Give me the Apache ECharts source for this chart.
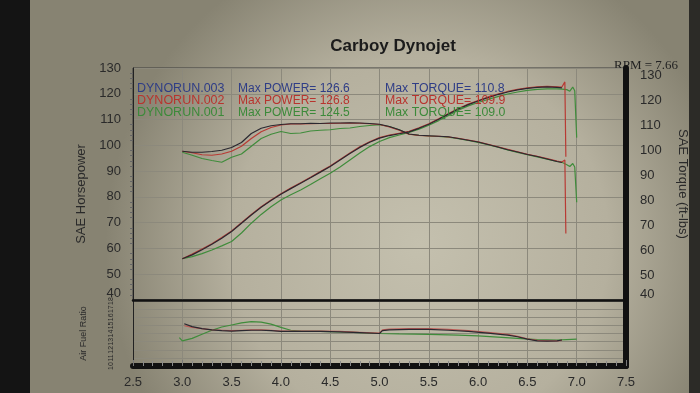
<!DOCTYPE html>
<html><head><meta charset="utf-8">
<script src="https://cdn.jsdelivr.net/npm/echarts@6/dist/echarts.min.js"></script>
<style>html,body{margin:0;padding:0;background:#111}#c{width:700px;height:393px}</style>
</head><body><div id="c"></div>
<script>
// ---- data ----
const rpm = [3.0,3.1,3.2,3.3,3.4,3.5,3.6,3.7,3.8,3.9,4.0,4.1,4.2,4.3,4.4,4.5,4.6,4.7,4.8,4.9,5.0,5.1,5.2,5.3,5.4,5.5,5.6,5.7,5.8,5.9,6.0,6.1,6.2,6.3,6.4,6.5,6.6,6.7,6.8];
const power003 = [56,57.5,59.5,61.6,64,66.6,69.8,73,76,78.6,81,83.2,85.3,87.4,89.6,91.8,94.3,96.8,99.2,101.2,102.8,103.8,104.5,105.2,106.6,108.2,110.1,112.1,114.1,115.8,117.2,118.5,119.7,120.7,121.5,122.1,122.5,122.7,122.5];
const power002 = [56,57.8,59.8,61.8,64.2,66.8,70,73.2,76.2,78.8,81.2,83.4,85.5,87.6,89.8,92,94.5,97,99.4,101.4,103,104,104.7,105.4,106.8,108.4,110.3,112.3,114.3,116,117.4,118.7,119.9,120.9,121.7,122.3,122.7,122.9,122.7];
const power001 = [56,56.8,58,59.4,61,62.7,66,69.8,73.2,76.2,78.8,80.8,82.7,84.8,87,89.2,91.6,94.3,97,99.5,101.5,103,104,105,106.3,107.8,109.6,111.6,113.6,115.3,116.6,117.8,118.9,119.9,120.7,121.3,121.7,121.9,121.9];
const torque003 = [99.5,99.1,99.1,99.4,99.9,101.0,103.0,106.6,108.7,109.7,110.2,110.5,110.5,110.7,110.6,110.8,110.8,110.9,110.8,110.6,110.3,109.4,108.1,106.4,105.9,105.7,105.5,105.3,104.6,103.9,103.2,102.2,101.2,100.1,99.2,98.2,97.4,96.4,95.4];
const torque002 = [99.5,98.9,98.1,97.9,98.4,99.5,101.5,104.6,107.3,109.0,110.0,110.4,110.4,110.5,110.6,110.6,110.7,110.8,110.7,110.5,110.2,109.2,107.9,106.3,105.8,105.6,105.5,105.2,104.7,104.0,103.3,102.3,101.3,100.3,99.3,98.3,97.5,96.6,95.6];
const torque001 = [99.1,97.9,96.6,95.8,95.1,97.1,98.4,101.5,104.6,106.3,107.4,106.6,106.8,107.6,107.9,108.1,108.6,108.8,109.4,109.8,110.1,109.4,108.1,106.3,105.9,105.6,105.4,105.1,104.5,103.8,103.0,102.1,101.1,100.0,99.0,98.1,97.2,96.3,95.4];
// end-of-run segments
const tailRpm003 = [6.85];
const powerTail003 = [122.3];
const torqueTail003 = [95.0];
const tailRpm002 = [6.85,6.88,6.89];
const powerTail002 = [122.6,124.6,95.6];
const torqueTail002 = [95.2,96.0,66.6];
const tailRpm001 = [6.85,6.9,6.93,6.96,6.98,7.0];
const powerTail001 = [121.8,121.6,121.0,122.6,121.2,103.0];
const torqueTail001 = [95.1,94.1,93.4,94.6,93.2,79.1];
// air fuel ratio
const afrRpm003 = [3.02,3.1,3.2,3.3,3.4,3.5,3.6,3.7,3.8,3.9,4.0,4.2,4.4,4.6,4.8,5.0,5.03,5.1,5.3,5.5,5.7,5.9,6.1,6.3,6.4,6.5,6.6,6.7,6.8,6.85];
const afr003 = [15.2,14.85,14.6,14.45,14.35,14.3,14.35,14.4,14.4,14.35,14.25,14.25,14.25,14.2,14.1,14.0,14.35,14.45,14.5,14.5,14.4,14.25,14.05,13.8,13.6,13.3,13.1,13.05,13.1,13.2];
const afr002 = [14.95,14.75,14.6,14.45,14.4,14.35,14.4,14.45,14.45,14.4,14.3,14.3,14.3,14.25,14.15,14.05,14.45,14.55,14.6,14.6,14.5,14.35,14.15,13.9,13.65,13.35,13.15,13.1,13.1,13.15];
const afrRpm001 = [2.97,3.0,3.1,3.2,3.3,3.4,3.5,3.6,3.7,3.8,3.9,4.0,4.1,4.2,4.4,4.6,4.8,5.0,5.2,5.5,5.8,6.0,6.2,6.4,6.6,6.8,6.9,7.0];
const afr001 = [13.5,13.1,13.4,13.9,14.4,14.8,15.05,15.3,15.45,15.4,15.15,14.75,14.4,14.3,14.25,14.2,14.1,14.0,13.95,13.9,13.8,13.7,13.55,13.4,13.25,13.2,13.25,13.3];
// texts
const runNames = ['DYNORUN.003','DYNORUN.002','DYNORUN.001'];
const maxPower = ['126.6','126.8','124.5'];
const maxTorque = ['110.8','109.9','109.0'];
const torqueTicks = [40,50,60,70,80,90,100,110,120,130];
const rpmReadout = 'RPM = 7.66';

// ---- build ----
const zip = (xs, ys) => xs.map((x, i) => [x, ys[i]]);
const withTail = (xs, ys, tx, ty) => zip(xs, ys).concat(zip(tx, ty));
const colBlack = '#2a2830', colRed = '#b83a34', colGreen = '#3f8c3b';
const txtCols = ['#2f3d86', '#b8342e', '#3c8a3a'];
const gridCol = '#8c897c';
const font = 'Liberation Sans, Arial, sans-serif';

function line(name, data, color, xi, yi, w) {
  return {name, type:'line', data, xAxisIndex:xi, yAxisIndex:yi, showSymbol:false, symbol:'none',
          lineStyle:{color, width:w || 1.2}, itemStyle:{color}, silent:true};
}

const graphics = [
  {type:'rect', shape:{x:0,y:0,width:30,height:393}, style:{fill:'#141414'}},
  {type:'rect', shape:{x:689,y:0,width:11,height:393}, style:{fill:'#2c2b27'}},
  {type:'text', style:{text:rpmReadout, x:614, y:66, fill:'#222', font:'13px "Liberation Serif", serif', verticalAlign:'middle'}}
];
const rowY = [89, 101, 113];
runNames.forEach((n, i) => {
  graphics.push({type:'text', z:10, style:{text:n, x:137, y:rowY[i], fill:txtCols[i], font:'12.5px ' + font, verticalAlign:'middle'}});
  graphics.push({type:'text', z:10, style:{text:'Max POWER= ' + maxPower[i], x:238, y:rowY[i], fill:txtCols[i], font:'12px ' + font, verticalAlign:'middle'}});
  graphics.push({type:'text', z:10, style:{text:'Max TORQUE= ' + maxTorque[i], x:385, y:rowY[i], fill:txtCols[i], font:'12.3px ' + font, verticalAlign:'middle'}});
});

const option = {
  animation:false,
  backgroundColor:{type:'radial', x:0.6, y:0.62, r:0.8,
    colorStops:[{offset:0,color:'#c4c0ae'},{offset:0.6,color:'#b5b09e'},{offset:1,color:'#878372'}]},
  textStyle:{fontFamily:font},
  title:{text:'Carboy Dynojet', left:388, top:33, textAlign:'center',
    textStyle:{fontSize:17, fontWeight:'bold', color:'#1b1b1b', fontFamily:font}},
  graphic:graphics,
  grid:[
    {left:133, right:74, top:68, height:232, show:true, borderColor:'#3c3c3c', borderWidth:1, backgroundColor:'transparent'},
    {left:133, right:74, top:301, height:65}
  ],
  xAxis:[
    {gridIndex:0, type:'value', min:2.5, max:7.5, interval:0.5,
     axisLabel:{show:false}, axisTick:{show:false},
     axisLine:{show:true, lineStyle:{color:'#111', width:2.5}},
     splitLine:{show:true, lineStyle:{color:gridCol, width:1}}},
    {gridIndex:1, type:'value', min:2.5, max:7.5, interval:0.5,
     axisLabel:{formatter:v => v.toFixed(1), fontSize:13, color:'#2a2a2a', margin:10},
     axisTick:{show:true, inside:true, length:6, lineStyle:{color:'#777'}},
     minorTick:{show:true, splitNumber:5, length:5, lineStyle:{color:'#8a8a8a'}},
     axisLine:{show:true, lineStyle:{color:'#111', width:6}},
     splitLine:{show:true, lineStyle:{color:gridCol, width:1}}}
  ],
  yAxis:[
    {gridIndex:0, type:'value', min:40, max:130, interval:10, position:'left',
     name:'SAE Horsepower', nameLocation:'middle', nameGap:45,
     nameTextStyle:{fontSize:13, color:'#2a2a2a', padding:[0,20,0,0]},
     axisLabel:{fontSize:13, color:'#2a2a2a', margin:12,
       formatter:v => v === 40 ? '{lo|40}' : String(v),
       rich:{lo:{fontSize:13, color:'#2a2a2a', padding:[0,0,14,0]}}},
     axisLine:{show:true, lineStyle:{color:'#222', width:1}},
     axisTick:{show:false},
     minorTick:{show:true, splitNumber:5, length:3, lineStyle:{color:'#666'}},
     splitLine:{show:true, lineStyle:{color:gridCol, width:1}}},
    {gridIndex:0, type:'value', min:40, max:132.8, position:'right',
     name:'SAE Torque (ft-lbs)', nameLocation:'middle', nameGap:50, nameRotate:-90,
     nameTextStyle:{fontSize:13, color:'#2a2a2a'},
     axisLabel:{customValues:torqueTicks, fontSize:13, color:'#2a2a2a', margin:14,
       formatter:v => v === 40 ? '{lo|40}' : String(v),
       rich:{lo:{fontSize:13, color:'#2a2a2a', padding:[0,0,12,0]}}},
     axisTick:{show:false},
     axisLine:{show:true, lineStyle:{color:'#111', width:6}},
     splitLine:{show:false}},
    {gridIndex:1, type:'value', min:10, max:18, interval:1, position:'left',
     name:'Air Fuel Ratio', nameLocation:'middle', nameGap:45,
     nameTextStyle:{fontSize:9, color:'#2a2a2a'},
     axisLabel:{fontSize:7, color:'#2a2a2a', rotate:90, margin:18},
     axisTick:{show:false},
     axisLine:{show:true, lineStyle:{color:'#222', width:1}},
     splitLine:{show:true, lineStyle:{color:gridCol, width:1}}},
    {gridIndex:1, type:'value', min:10, max:18, position:'right',
     axisLabel:{show:false}, axisTick:{show:false},
     axisLine:{show:true, lineStyle:{color:'#111', width:6}},
     splitLine:{show:false}}
  ],
  series:[
    line('Power 001', withTail(rpm, power001, tailRpm001, powerTail001), colGreen, 0, 0),
    line('Torque 001', withTail(rpm, torque001, tailRpm001, torqueTail001), colGreen, 0, 1),
    line('Power 002', withTail(rpm, power002, tailRpm002, powerTail002), colRed, 0, 0),
    line('Torque 002', withTail(rpm, torque002, tailRpm002, torqueTail002), colRed, 0, 1),
    line('Power 003', withTail(rpm, power003, tailRpm003, powerTail003), colBlack, 0, 0),
    line('Torque 003', withTail(rpm, torque003, tailRpm003, torqueTail003), colBlack, 0, 1),
    line('AFR 001', zip(afrRpm001, afr001), colGreen, 1, 2),
    line('AFR 002', zip(afrRpm003, afr002), '#bf5a55', 1, 2),
    line('AFR 003', zip(afrRpm003, afr003), colBlack, 1, 2)
  ]
};
const chart = echarts.init(document.getElementById('c'));
chart.setOption(option);
</script>
</body></html>
